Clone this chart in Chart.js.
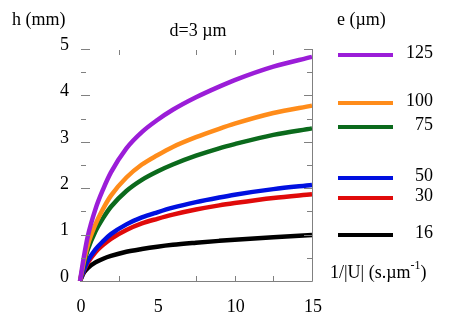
<!DOCTYPE html>
<html>
<head>
<meta charset="utf-8">
<script src="https://cdn.jsdelivr.net/npm/chart.js@4"></script>
<style>
    html, body { margin: 0; padding: 0; background: #fff; }
    canvas { display: block; }
</style>
</head>
<body>
<canvas id="chart" width="463" height="326"></canvas>
<script>
// x values: 1/|U| (s.µm^-1)
const xValues = [0, 0.25, 0.5, 1, 1.5, 2, 3, 4, 5, 6, 7.5, 9, 10, 12.5, 15];

// h (mm) for each fibre diameter e (µm)
const h125 = [0, 0.52, 0.96, 1.55, 1.98, 2.34, 2.86, 3.21, 3.47, 3.69, 3.96, 4.19, 4.33, 4.62, 4.83];
const h100 = [0, 0.42, 0.77, 1.22, 1.56, 1.84, 2.23, 2.51, 2.71, 2.89, 3.10, 3.28, 3.39, 3.62, 3.78];
const h75 = [0, 0.37, 0.67, 1.07, 1.36, 1.60, 1.94, 2.18, 2.36, 2.51, 2.70, 2.86, 2.95, 3.15, 3.29];
const h50 = [0, 0.24, 0.43, 0.68, 0.86, 1.01, 1.22, 1.37, 1.48, 1.58, 1.70, 1.80, 1.86, 1.98, 2.07];
const h30 = [0, 0.22, 0.39, 0.62, 0.78, 0.91, 1.10, 1.24, 1.34, 1.43, 1.54, 1.63, 1.68, 1.79, 1.87];
const h16 = [0, 0.18, 0.28, 0.40, 0.48, 0.54, 0.63, 0.69, 0.74, 0.78, 0.825, 0.865, 0.89, 0.945, 0.99];

const seriesLabels = ['125', '100', '75', '50', '30', '16'];
const seriesColors = ['#9b1dd8', '#ff8c1a', '#0b6a1c', '#0010e0', '#e00a0a', '#000000'];

const xTickLabels = [0, 5, 10, 15];
const xMinorTicks = [2.5, 7.5, 10, 12.5];
const yTickLabels = [0, 1, 2, 3, 4, 5];
const yMinorTicks = [0.5, 1.5, 2.5, 3.5, 4.5];

const FONT = '18px "Liberation Serif", "Times New Roman", serif';
const AXIS_COLOR = '#808080';

function toPoints(ys) {
    return xValues.map((x, i) => ({ x: x, y: ys[i] }));
}

// legend entries sit beside the plot; pixel rows picked to match the figure
const legendRows = [55, 103, 127, 178, 198, 235];

const decorPlugin = {
    id: 'decor',
    afterDraw(chart) {
        const ctx = chart.ctx;
        const xs = chart.scales.x;
        const ys = chart.scales.y;
        const area = chart.chartArea;

        ctx.save();
        // axis lines (bottom and right only)
        ctx.strokeStyle = AXIS_COLOR;
        ctx.lineWidth = 1;
        ctx.beginPath();
        ctx.moveTo(area.left, area.bottom + 0.5);
        ctx.lineTo(area.right + 0.5, area.bottom + 0.5);
        ctx.lineTo(area.right + 0.5, area.top);
        ctx.stroke();

        // y ticks, left and right, pointing inward
        ctx.beginPath();
        yTickLabels.forEach(v => {
            const py = Math.round(ys.getPixelForValue(v)) + 0.5;
            if (v > 0) {
                ctx.moveTo(area.left + 1, py); ctx.lineTo(area.left + 10, py);
                ctx.moveTo(area.right, py); ctx.lineTo(area.right - 8, py);
            }
        });
        yMinorTicks.forEach(v => {
            const py = Math.round(ys.getPixelForValue(v)) + 0.5;
            ctx.moveTo(area.left + 1, py); ctx.lineTo(area.left + 6, py);
            ctx.moveTo(area.right, py); ctx.lineTo(area.right - 5, py);
        });
        // x ticks, bottom and top
        xMinorTicks.forEach(v => {
            const px = Math.round(xs.getPixelForValue(v)) + 0.5;
            ctx.moveTo(px, area.bottom); ctx.lineTo(px, area.bottom - 5);
            ctx.moveTo(px, area.top + 1); ctx.lineTo(px, area.top + 6);
        });
        ctx.stroke();

        // tick labels
        ctx.fillStyle = '#000';
        ctx.font = FONT;
        ctx.textBaseline = 'middle';
        ctx.textAlign = 'right';
        yTickLabels.forEach(v => {
            ctx.fillText(String(v), area.left - 11, ys.getPixelForValue(v) - 4);
        });
        ctx.textAlign = 'center';
        xTickLabels.forEach(v => {
            ctx.fillText(String(v), xs.getPixelForValue(v) + 1, area.bottom + 26);
        });

        // titles
        ctx.textAlign = 'left';
        ctx.fillText('h (mm)', 12, 20);
        ctx.fillText('e (\u00b5m)', 337, 20);
        ctx.textAlign = 'center';
        ctx.fillText('d=3 \u00b5m', 198, 31);

        // x axis title with superscript
        ctx.textAlign = 'left';
        let tx = 330;
        const main = '1/|U| (s.\u00b5m';
        ctx.fillText(main, tx, 273);
        tx += ctx.measureText(main).width;
        ctx.font = '12px "Liberation Serif", serif';
        ctx.fillText('-1', tx, 266);
        tx += ctx.measureText('-1').width;
        ctx.font = FONT;
        ctx.fillText(')', tx, 273);

        // legend
        ctx.lineWidth = 4;
        seriesLabels.forEach((lab, i) => {
            const ly = legendRows[i];
            ctx.strokeStyle = seriesColors[i];
            ctx.beginPath();
            ctx.moveTo(338, ly);
            ctx.lineTo(393, ly);
            ctx.stroke();
            ctx.textAlign = 'right';
            ctx.fillStyle = '#000';
            ctx.fillText(lab, 433, ly - 1.5);
        });
        ctx.restore();
    }
};

const allSeries = [h125, h100, h75, h50, h30, h16];

new Chart(document.getElementById('chart'), {
    type: 'line',
    data: {
        datasets: allSeries.map((ys, i) => ({
            label: seriesLabels[i],
            data: toPoints(ys),
            borderColor: seriesColors[i],
            borderWidth: 4.5,
            pointRadius: 0,
            cubicInterpolationMode: 'monotone',
            fill: false,
            clip: false
        }))
    },
    options: {
        responsive: false,
        animation: false,
        layout: { padding: { left: 80, right: 151, top: 49, bottom: 45 } },
        plugins: { legend: { display: false }, tooltip: { enabled: false } },
        scales: {
            x: { type: 'linear', min: 0, max: 15, display: false },
            y: { type: 'linear', min: 0, max: 5, display: false }
        }
    },
    plugins: [decorPlugin]
});
</script>
</body>
</html>
